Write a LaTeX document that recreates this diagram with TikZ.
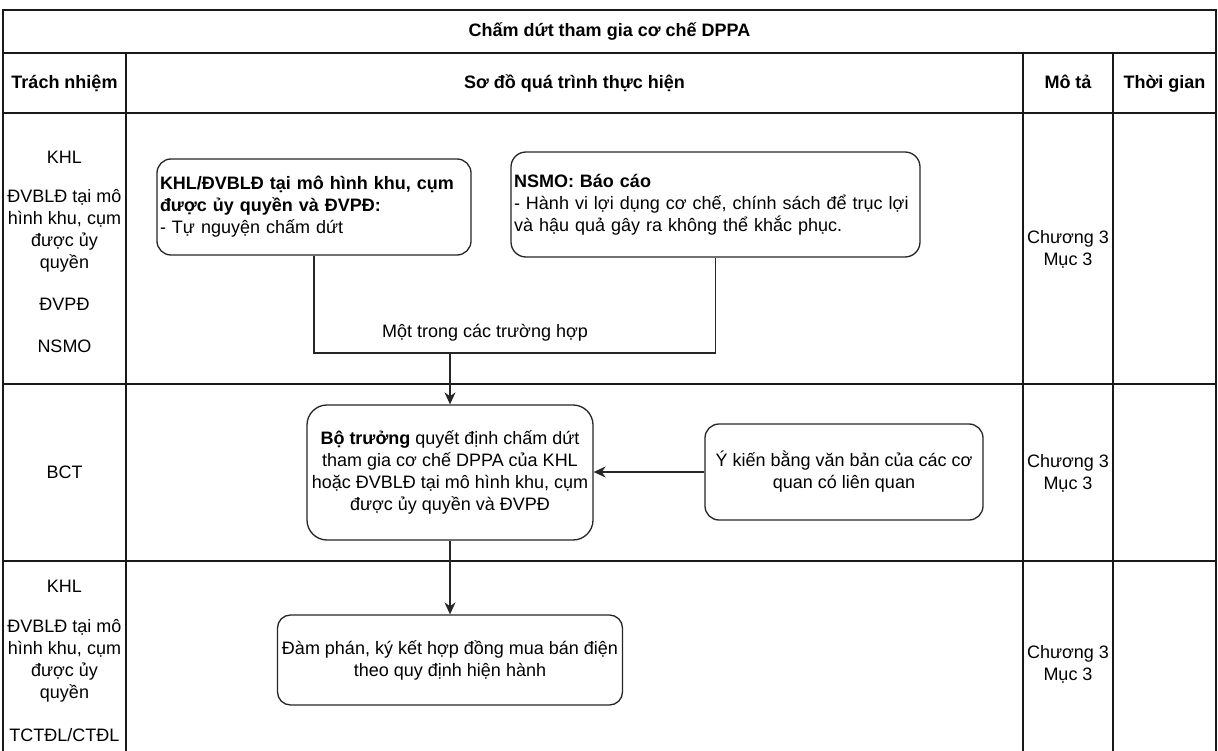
\documentclass[tikz,border=0pt]{standalone}
\usepackage{fontspec}
\setmainfont{Liberation Sans}
\usetikzlibrary{arrows.meta}
\newcommand\dfont{\fontsize{18}{22}\selectfont}
\begin{document}
\begin{tikzpicture}[x=1pt,y=-1pt,font=\dfont,
  tbl/.style={line width=1.7pt,draw=black!90},
  box/.style={draw=black!85,line width=1.3pt,inner xsep=3pt,inner ysep=2pt},
  conn/.style={draw=black!85,line width=1.3pt},
  arr/.style={conn,-{Stealth[length=12pt,width=11pt]}},
  hdr/.style={font=\dfont\bfseries,text height=13pt,text depth=4pt},
  cell/.style={align=center,inner sep=1pt}]
\fill[white] (0,0) rectangle (1218,751);
\useasboundingbox (0,0) rectangle (1218,751);
% table
\draw[tbl] (3,751) -- (3,10) -- (1216,10) -- (1216,751);
\draw[tbl] (3,53) -- (1216,53);
\draw[tbl] (3,113) -- (1216,113);
\draw[tbl] (3,384) -- (1216,384);
\draw[tbl] (3,561) -- (1216,561);
\draw[tbl] (126,53) -- (126,751);
\draw[tbl] (1023,53) -- (1023,751);
\draw[tbl] (1113,53) -- (1113,751);
% headers
\node[hdr] (title) at (609.5,32) {Chấm dứt tham gia cơ chế DPPA};
\node[hdr] (h1) at (64.5,84) {Trách nhiệm};
\node[hdr] (h2) at (574.5,84) {Sơ đồ quá trình thực hiện};
\node[hdr] (h3) at (1068,84) {Mô tả};
\node[hdr] (h4) at (1164.5,84) {Thời gian};
% left column
\node[cell] (r1) at (64.5,252) {KHL\\[17pt]ĐVBLĐ tại mô\\hình khu, cụm\\được ủy\\quyền\\[20pt]ĐVPĐ\\[20pt]NSMO};
\node[cell] (r2) at (64.5,472) {BCT};
\node[cell] (r3) at (64.5,661) {KHL\\[18pt]ĐVBLĐ tại mô\\hình khu, cụm\\được ủy\\quyền\\[21pt]TCTĐL/CTĐL};
% description column
\node[cell] (m1) at (1068,249) {Chương 3\\Mục 3};
\node[cell] (m2) at (1068,473) {Chương 3\\Mục 3};
\node[cell] (m3) at (1068,664) {Chương 3\\Mục 3};
% boxes
\node[box,rounded corners=14pt,minimum height=96pt,text width=308pt,align=left] (b1) at (314,207)
  {\textbf{KHL/ĐVBLĐ tại mô hình khu, cụm}\\\textbf{được ủy quyền và ĐVPĐ:}\\- Tự nguyện chấm dứt\rule[-3pt]{0pt}{0pt}};
\node[box,rounded corners=15pt,minimum height=105pt,text width=403pt,align=left] (b2) at (715.5,204.5)
  {\textbf{NSMO: Báo cáo}\\- Hành vi lợi dụng cơ chế, chính sách để trục lợi\\và hậu quả gây ra không thể khắc phục.};
\node[box,rounded corners=20pt,minimum width=286pt,minimum height=135pt,align=center] (b3) at (450,472.5)
  {\textbf{Bộ trưởng} quyết định chấm dứt\\tham gia cơ chế DPPA của KHL\\hoặc ĐVBLĐ tại mô hình khu, cụm\\được ủy quyền và ĐVPĐ};
\node[box,rounded corners=14pt,minimum width=278pt,minimum height=96pt,align=center] (b4) at (844,472)
  {Ý kiến bằng văn bản của các cơ\\quan có liên quan};
\node[box,rounded corners=13pt,minimum width=345pt,minimum height=90pt,align=center] (b5) at (450,660)
  {Đàm phán, ký kết hợp đồng mua bán điện\\theo quy định hiện hành};
% connectors
\coordinate (j) at (450,353);
\node (lab) at (485,333) {Một trong các trường hợp};
\draw[conn] (b1.south) |- (j) -| (b2.south);
\draw[arr] (j) -- (b3.north);
\draw[arr] (b4.west) -- (b4.west -| b3.east);
\draw[arr] (b3.south) -- (b5.north);
\end{tikzpicture}
\end{document}
